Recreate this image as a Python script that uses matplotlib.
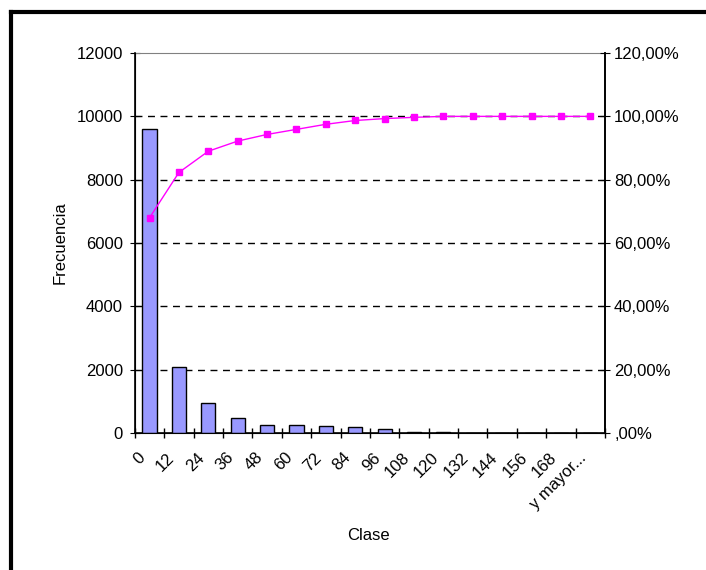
import matplotlib
matplotlib.use("Agg")
import matplotlib.pyplot as plt
from matplotlib.lines import Line2D
from matplotlib.ticker import FuncFormatter, FixedLocator
import matplotlib.transforms as mtransforms
import numpy as np

plt.rcParams['font.family'] = ['Liberation Sans', 'DejaVu Sans']

categories = ['0', '12', '24', '36', '48', '60', '72', '84', '96', '108',
              '120', '132', '144', '156', '168', 'y mayor...']
frecuencia = [9600, 2080, 940, 470, 270, 270, 230, 180, 120, 40,
              30, 0, 0, 0, 0, 0]
acumulado = [68.0, 82.3, 89.0, 92.2, 94.3, 95.9, 97.5, 98.7, 99.3, 99.7,
             100.0, 100.0, 100.0, 100.0, 100.0, 100.0]

FS = 12

fig = plt.figure(figsize=(7.06, 5.70), dpi=100)
ax = fig.add_axes([0.191, 0.240, 0.666, 0.667])

x = np.arange(len(categories))
ax.bar(x, frecuencia, width=0.48, color='#9999ff', edgecolor='black', linewidth=1, zorder=3)

ax.set_xlim(-0.5, len(categories) - 0.5)
ax.set_ylim(0, 12000)
ax.set_yticks(range(0, 12001, 2000))
ax.tick_params(axis='y', direction='inout', length=7, labelsize=FS, pad=5)

# dashed gridlines, except bottom and top
for v in range(2000, 12000, 2000):
    ax.axhline(v, color='black', linewidth=1, linestyle=(0, (5, 4)), zorder=1)

# x ticks at category boundaries, labels at centers
ax.xaxis.set_minor_locator(FixedLocator(np.arange(-0.5, len(categories), 1)))
ax.set_xticks(x)
ax.set_xticklabels(categories, rotation=45, ha='right', rotation_mode='anchor', fontsize=FS)
ax.tick_params(axis='x', which='major', length=0, pad=12)
ax.tick_params(axis='x', which='minor', direction='inout', length=7, width=1)
shift = mtransforms.ScaledTranslation(-0.12, 0, fig.dpi_scale_trans)
for lab in ax.get_xticklabels():
    lab.set_transform(lab.get_transform() + shift)

ax.spines['top'].set_color('#808080')
ax.spines['top'].set_linewidth(0.8)
for s in ['left', 'bottom', 'right']:
    ax.spines[s].set_linewidth(1.2)

ax.set_xlabel('Clase', fontsize=FS)
ax.xaxis.set_label_coords(0.496, -0.25)
ax.set_ylabel('Frecuencia', fontsize=FS)
ax.yaxis.set_label_coords(-0.143, 0.5)

ax2 = ax.twinx()
ax2.plot(x, np.array(acumulado) / 100, color='#ff00ff', linewidth=1,
         marker='s', markersize=5, zorder=4)
ax2.set_ylim(0, 1.2)
ax2.set_yticks(np.arange(0, 1.21, 0.2))

def pct(v, pos):
    s = '%.2f%%' % (v * 100)
    s = s.replace('.', ',')
    if s.startswith('0,'):
        s = s[1:]
    return s

ax2.yaxis.set_major_formatter(FuncFormatter(pct))
ax2.tick_params(axis='y', direction='inout', length=7, labelsize=FS, pad=3)
ax2.spines['right'].set_linewidth(1.2)
ax2.spines['top'].set_visible(False)

# outer chart frame
fig.add_artist(Line2D([11 / 706, 11 / 706], [0, 1 - 12 / 570], color='black', linewidth=3))
fig.add_artist(Line2D([11 / 706, 1], [1 - 12 / 570, 1 - 12 / 570], color='black', linewidth=3))

fig.savefig('out.png', dpi=100)
